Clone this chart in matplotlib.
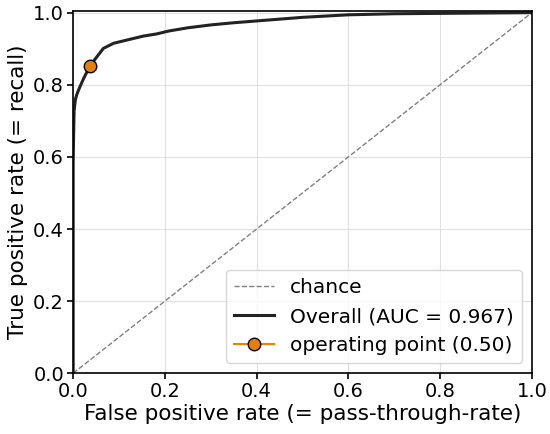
import matplotlib
matplotlib.use("Agg")
import matplotlib.pyplot as plt
import numpy as np

fpr = [0.0, 0.0, 0.001, 0.002, 0.005, 0.008, 0.012, 0.023, 0.037, 0.052, 0.066,
       0.088, 0.117, 0.153, 0.182, 0.208, 0.25, 0.30, 0.35, 0.40, 0.5, 0.6, 0.7, 0.8, 0.9, 1.0]
tpr = [0.0, 0.58, 0.66, 0.727, 0.76, 0.773, 0.786, 0.818, 0.853, 0.878, 0.901,
       0.915, 0.924, 0.935, 0.941, 0.949, 0.958, 0.966, 0.972, 0.977, 0.987, 0.994, 0.997, 0.998, 0.999, 1.0]
auc_value = 0.967
op_fpr = 0.037
op_tpr = 0.853
op_threshold = 0.50

plt.rcParams['font.size'] = 14
plt.rcParams['axes.linewidth'] = 1.2
plt.rcParams['xtick.major.width'] = 1.2
plt.rcParams['ytick.major.width'] = 1.2
plt.rcParams['xtick.major.size'] = 4.5
plt.rcParams['ytick.major.size'] = 4.5
fig, ax = plt.subplots(figsize=(5.5, 4.34), dpi=100)
ax.plot([0, 1], [0, 1], linestyle='--', color='gray', linewidth=1, label='chance')
ax.plot(fpr, tpr, color='#222222', linewidth=2.2, label=f'Overall (AUC = {auc_value:.3f})')
ax.plot([op_fpr], [op_tpr], marker='o', markersize=9, color='#f08000',
        markerfacecolor='#e87e04', markeredgecolor='black', linestyle='-',
        label=f'operating point ({op_threshold:.2f})')
ax.set_xlim(0, 1)
ax.set_ylim(0, 1.005)
ax.set_xticks([0, 0.2, 0.4, 0.6, 0.8, 1.0])
ax.set_yticks([0, 0.2, 0.4, 0.6, 0.8, 1.0])
ax.tick_params(labelsize=14, pad=2)
ax.grid(True, color='#e0e0e0', linewidth=0.8)
ax.set_xlabel('False positive rate (= pass-through-rate)', fontsize=15.5, labelpad=2)
ax.set_ylabel('True positive rate (= recall)', fontsize=15.5, labelpad=4)
ax.legend(loc='lower right', fontsize=14.5)
fig.subplots_adjust(left=0.133, right=0.967, top=0.975, bottom=0.14)
fig.savefig('out.png', dpi=100)
